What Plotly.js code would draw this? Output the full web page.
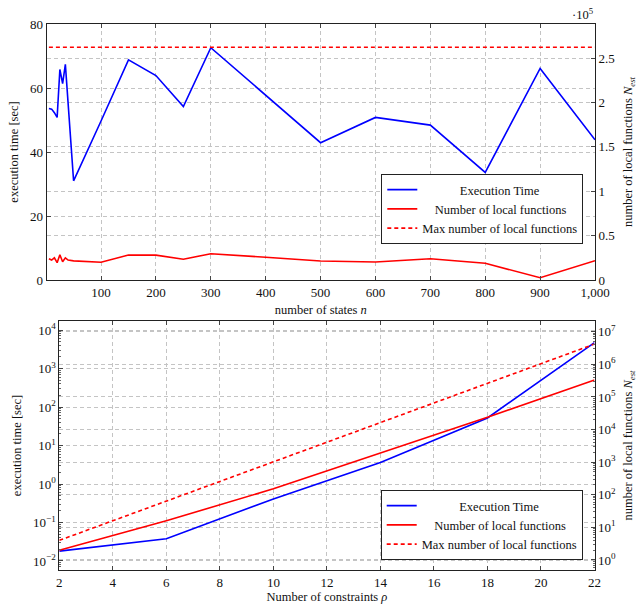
<!DOCTYPE html>
<html>
<head>
<meta charset="utf-8">
<script src="https://cdn.plot.ly/plotly-3.0.1.min.js"></script>
<style>html,body{margin:0;padding:0;background:#fff;}#chart{width:637px;height:607px;}</style>
</head>
<body>
<div id="chart"></div>
<script>
// ---------- Top panel data ----------
const nStates = [5, 10, 15, 20, 25, 30, 35, 40, 50, 100, 150, 200, 250, 300, 400, 500, 600, 700, 800, 900, 1000];
const execTimeTop = [53.6, 53.4, 52.3, 50.8, 65.8, 61.4, 67.4, 56, 31, 49.7, 68.8, 63.9, 54.2, 72.6, 57.8, 42.9, 50.8, 48.4, 33.6, 66.1, 43.8];
const localFuncsTop = [24000, 22500, 25000, 19500, 28500, 20500, 25000, 22500, 21500, 20000, 28200, 28000, 23300, 29600, 25600, 21400, 20300, 24000, 18800, 2600, 21700];
const maxLocalTop = 262144;
const topXTickVals = [100, 200, 300, 400, 500, 600, 700, 800, 900, 1000];
const topXTickText = ['100', '200', '300', '400', '500', '600', '700', '800', '900', '1,000'];
const topY2TickVals = [0, 50000, 100000, 150000, 200000, 250000];
const topY2TickText = ['0', '0.5', '1', '1.5', '2', '2.5'];

// ---------- Bottom panel data ----------
const rhoMeasured = [2, 6, 10, 14, 18, 22];
const execTimeBottom = [0.018, 0.038, 0.41, 3.6, 52, 4700];
const localFuncsBottom = [2, 16, 152, 1950, 24000, 330000];
const rhoMax = [2, 4, 6, 8, 10, 12, 14, 16, 18, 20, 22];
const maxLocalBottom = [4, 16, 64, 256, 1024, 4096, 16384, 65536, 262144, 1048576, 4194304];
const bottomY3TickVals = [0.01, 0.1, 1, 10, 100, 1000, 10000];
const bottomY3TickText = ['10<sup>−2</sup>', '10<sup>−1</sup>', '10<sup>0</sup>', '10<sup>1</sup>', '10<sup>2</sup>', '10<sup>3</sup>', '10<sup>4</sup>'];
const bottomY4TickVals = [1, 10, 100, 1000, 10000, 100000, 1000000, 10000000];
const bottomY4TickText = ['10<sup>0</sup>', '10<sup>1</sup>', '10<sup>2</sup>', '10<sup>3</sup>', '10<sup>4</sup>', '10<sup>5</sup>', '10<sup>6</sup>', '10<sup>7</sup>'];

// legend labels (padding only centres them the way the reference legend does)
const labelTime = 'Execution Time';
const labelLocal = 'Number of local functions';
const labelMax = 'Max number of local functions';
const pad = k => '\u00a0'.repeat(k);

const W = 637, H = 607;
const FONT = 'Liberation Serif, Times New Roman, serif';
const BLUE = '#0000ff', RED = '#ff0000';
const GRID = '#c4c4c4', GRIDDASH = '4px,3px';

const axisCommon = {
  showline: true, linecolor: '#222', linewidth: 1,
  ticks: 'inside', ticklen: 4, tickcolor: '#444', tickwidth: 1,
  showgrid: true, gridcolor: GRID, griddash: GRIDDASH, gridwidth: 1,
  zeroline: false,
  tickfont: {family: FONT, size: 13, color: '#111'},
  fixedrange: true
};

function legendEntries(xa, ya, legendId) {
  return [
    {x: [null], y: [null], xaxis: xa, yaxis: ya, mode: 'lines', line: {color: BLUE, width: 1.6},
     name: pad(12) + labelTime, legend: legendId},
    {x: [null], y: [null], xaxis: xa, yaxis: ya, mode: 'lines', line: {color: RED, width: 1.6},
     name: pad(4) + labelLocal, legend: legendId},
    {x: [null], y: [null], xaxis: xa, yaxis: ya, mode: 'lines', line: {color: RED, width: 1.6, dash: '4px,3px'},
     name: labelMax, legend: legendId}
  ];
}

const traces = [
  {x: [nStates[0], nStates[nStates.length - 1]], y: [maxLocalTop, maxLocalTop], xaxis: 'x', yaxis: 'y2',
   mode: 'lines', line: {color: RED, width: 1.6, dash: '4px,3px'}, name: labelMax, showlegend: false},
  {x: nStates, y: localFuncsTop, xaxis: 'x', yaxis: 'y2', mode: 'lines',
   line: {color: RED, width: 1.6}, name: labelLocal, showlegend: false},
  {x: nStates, y: execTimeTop, xaxis: 'x', yaxis: 'y', mode: 'lines',
   line: {color: BLUE, width: 1.6}, name: labelTime, showlegend: false},

  {x: rhoMax, y: maxLocalBottom, xaxis: 'x2', yaxis: 'y4', mode: 'lines',
   line: {color: RED, width: 1.6, dash: '4px,3px'}, name: labelMax, showlegend: false},
  {x: rhoMeasured, y: localFuncsBottom, xaxis: 'x2', yaxis: 'y4', mode: 'lines',
   line: {color: RED, width: 1.6}, name: labelLocal, showlegend: false},
  {x: rhoMeasured, y: execTimeBottom, xaxis: 'x2', yaxis: 'y3', mode: 'lines',
   line: {color: BLUE, width: 1.6}, name: labelTime, showlegend: false}
].concat(legendEntries('x', 'y', 'legend'), legendEntries('x2', 'y3', 'legend2'));

const legendCommon = {
  bgcolor: '#fff', bordercolor: '#222', borderwidth: 1,
  font: {family: FONT, size: 12.5, color: '#111'},
  xanchor: 'right', yanchor: 'top', traceorder: 'normal',
  itemwidth: 30, tracegroupgap: 0
};

const titleFont = {family: FONT, size: 12.5, color: '#111'};

const layout = {
  width: W, height: H,
  margin: {l: 0, r: 0, t: 0, b: 0},
  paper_bgcolor: '#fff', plot_bgcolor: 'rgba(0,0,0,0)',
  font: {family: FONT, color: '#111'},
  xaxis: Object.assign({}, axisCommon, {
    domain: [46.7 / W, 595 / W], anchor: 'y', range: [1, 1000],
    tickmode: 'array', tickvals: topXTickVals, ticktext: topXTickText,
    mirror: 'ticks',
    title: {text: 'number of states <i>n</i>', font: titleFont, standoff: 6}
  }),
  yaxis: Object.assign({}, axisCommon, {
    domain: [1 - 280 / H, 1 - 24 / H], anchor: 'x', range: [0, 80], tickmode: 'array', tickvals: [0, 20, 40, 60, 80],
    title: {text: 'execution time [sec]', font: titleFont, standoff: 8}
  }),
  yaxis2: Object.assign({}, axisCommon, {
    overlaying: 'y', side: 'right', anchor: 'x', range: [0, 288358],
    tickmode: 'array', tickvals: topY2TickVals, ticktext: topY2TickText,
    title: {text: 'number of local functions <i>N</i><sub><i>est</i></sub>', font: titleFont, standoff: 10}
  }),
  xaxis2: Object.assign({}, axisCommon, {
    domain: [59.3 / W, 594.5 / W], anchor: 'y3', range: [2, 22],
    tickmode: 'array', tickvals: [2, 4, 6, 8, 10, 12, 14, 16, 18, 20, 22],
    mirror: 'ticks',
    title: {text: 'Number of constraints <i>ρ</i>', font: titleFont, standoff: 1}
  }),
  yaxis3: Object.assign({}, axisCommon, {
    domain: [1 - 570 / H, 1 - 321 / H], anchor: 'x2', type: 'log', range: [-2.234, 4.234],
    tickmode: 'array', tickvals: bottomY3TickVals, ticktext: bottomY3TickText,
    minor: {ticks: 'inside', ticklen: 2, tickcolor: '#666', dtick: 'D1', showgrid: false},
    title: {text: 'execution time [sec]', font: titleFont, standoff: 8}
  }),
  yaxis4: Object.assign({}, axisCommon, {
    overlaying: 'y3', side: 'right', anchor: 'x2', type: 'log', range: [-0.307, 7.33],
    tickmode: 'array', tickvals: bottomY4TickVals, ticktext: bottomY4TickText,
    minor: {ticks: 'inside', ticklen: 2, tickcolor: '#666', dtick: 'D1', showgrid: false},
    title: {text: 'number of local functions <i>N</i><sub><i>est</i></sub>', font: titleFont, standoff: 10}
  }),
  legend: Object.assign({}, legendCommon, {x: 583.3 / W, y: 1 - 174 / H}),
  legend2: Object.assign({}, legendCommon, {x: 582.7 / W, y: 1 - 490 / H}),
  annotations: [
    {text: '·10<sup>5</sup>', xref: 'paper', yref: 'paper', x: 596 / W, y: 1 - 4 / H,
     xanchor: 'right', yanchor: 'top', showarrow: false, font: titleFont}
  ]
};

Plotly.newPlot('chart', traces, layout, {displayModeBar: false, staticPlot: true});
</script>
</body>
</html>
